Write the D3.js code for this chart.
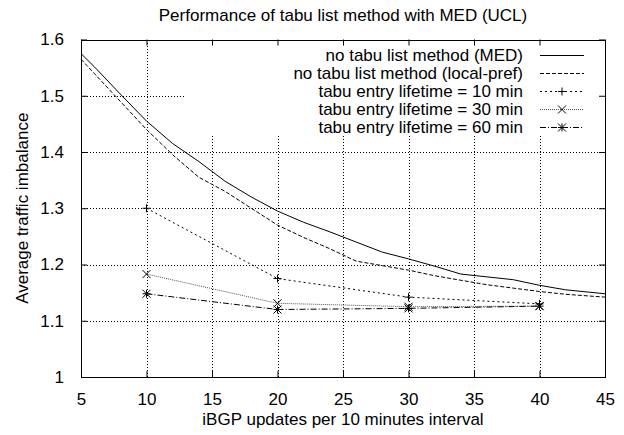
<!DOCTYPE html>
<html>
<head>
<meta charset="utf-8">
<script src="https://cdn.jsdelivr.net/npm/d3@7"></script>
<style>
  body { margin: 0; background: #fff; }
  text { font-family: "Liberation Sans", Arial, sans-serif; font-size: 17px; fill: #000; }
</style>
</head>
<body>
<div id="chart"></div>
<script>
// x positions for the two "no tabu" curves
const denseX = [5, 6, 8, 10, 12, 14, 16, 18, 20, 22, 24, 26, 28, 30, 32, 34, 36, 38, 40, 42, 45];
const medValues = [1.575, 1.552, 1.503, 1.455, 1.415, 1.383, 1.348, 1.320, 1.295, 1.275, 1.258,
                   1.240, 1.222, 1.210, 1.197, 1.183, 1.178, 1.173, 1.163, 1.155, 1.148];
const localPrefValues = [1.565, 1.540, 1.490, 1.440, 1.395, 1.355, 1.330, 1.300, 1.270, 1.248, 1.228,
                         1.206, 1.198, 1.190, 1.180, 1.172, 1.164, 1.158, 1.152, 1.147, 1.142];

// tabu runs were only measured at these rates
const tabuX = [10, 20, 30, 40];
const tabu10 = [1.300, 1.175, 1.142, 1.130];
const tabu30 = [1.183, 1.131, 1.125, 1.126];
const tabu60 = [1.148, 1.120, 1.122, 1.126];

const xTicks = [5, 10, 15, 20, 25, 30, 35, 40, 45];
const yTicks = [1, 1.1, 1.2, 1.3, 1.4, 1.5, 1.6];

const seriesNames = [
  "no tabu list method (MED)",
  "no tabu list method (local-pref)",
  "tabu entry lifetime = 10 min",
  "tabu entry lifetime = 30 min",
  "tabu entry lifetime = 60 min"
];

const width = 624, height = 435;
const margin = { top: 39.5, right: 19, bottom: 58, left: 81 };

const svg = d3.select("#chart").append("svg")
  .attr("width", width)
  .attr("height", height);

const x = d3.scaleLinear()
  .domain([5, 45])
  .range([margin.left, width - margin.right]);

const y = d3.scaleLinear()
  .domain([1, 1.6])
  .range([height - margin.bottom, margin.top]);

const plotLeft = x.range()[0], plotRight = x.range()[1];
const plotTop = y.range()[1], plotBottom = y.range()[0];

// gnuplot-ish line types
const styles = [
  { dash: null, stroke: "#000" },
  { dash: "4,2", stroke: "#000" },
  { dash: "2,3", stroke: "#000" },
  { dash: "1,1", stroke: "#555" },
  { dash: "6,2,1,2", stroke: "#000" }
];

// Grid
const grid = svg.append("g").attr("stroke", "#000").attr("stroke-width", 1)
  .attr("stroke-dasharray", "1,2").attr("shape-rendering", "crispEdges");

grid.selectAll(".vg")
  .data(xTicks.slice(1, -1))
  .join("line")
  .attr("x1", d => Math.round(x(d)) + 0.5).attr("x2", d => Math.round(x(d)) + 0.5)
  .attr("y1", plotTop).attr("y2", plotBottom);

grid.selectAll(".hg")
  .data(yTicks.slice(1, -1))
  .join("line")
  .attr("y1", d => Math.round(y(d)) + 0.5).attr("y2", d => Math.round(y(d)) + 0.5)
  .attr("x1", plotLeft).attr("x2", plotRight);

// key area hides the grid behind it
svg.append("rect")
  .attr("x", 185).attr("y", plotTop + 1)
  .attr("width", plotRight - 185 - 1).attr("height", 133 - plotTop)
  .attr("fill", "#fff");

// Border
svg.append("rect")
  .attr("x", Math.round(plotLeft) + 0.5).attr("y", Math.round(plotTop) + 0.5)
  .attr("width", Math.round(plotRight) - Math.round(plotLeft))
  .attr("height", Math.round(plotBottom) - Math.round(plotTop))
  .attr("fill", "none").attr("stroke", "#000").attr("stroke-width", 1)
  .attr("shape-rendering", "crispEdges");

// Axes (inward ticks, mirrored)
const tickLen = 6;
svg.append("g")
  .attr("transform", `translate(0,${plotBottom})`)
  .call(d3.axisBottom(x).tickValues(xTicks).tickSize(-tickLen).tickPadding(tickLen + 10).tickFormat(d3.format("d")))
  .call(g => g.select(".domain").remove())
  .call(g => g.selectAll("text").style("font-size", "17px").attr("font-family", null));

svg.append("g")
  .attr("transform", `translate(0,${plotTop})`)
  .call(d3.axisTop(x).tickValues(xTicks).tickSize(-tickLen).tickFormat(""))
  .call(g => g.select(".domain").remove());

svg.append("g")
  .attr("transform", `translate(${plotLeft},0)`)
  .call(d3.axisLeft(y).tickValues(yTicks).tickSize(-tickLen).tickPadding(tickLen + 11)
    .tickFormat(d => d === 1 ? "1" : d3.format(".1f")(d)))
  .call(g => g.select(".domain").remove())
  .call(g => g.selectAll("text").style("font-size", "17px").attr("font-family", null));

svg.append("g")
  .attr("transform", `translate(${plotRight},0)`)
  .call(d3.axisRight(y).tickValues(yTicks).tickSize(-tickLen).tickFormat(""))
  .call(g => g.select(".domain").remove());

// Title and axis labels
svg.append("text")
  .attr("x", (plotLeft + plotRight) / 2)
  .attr("y", 21)
  .attr("text-anchor", "middle")
  .text("Performance of tabu list method with MED (UCL)");

svg.append("text")
  .attr("x", (plotLeft + plotRight) / 2)
  .attr("y", 425)
  .attr("text-anchor", "middle")
  .text("iBGP updates per 10 minutes interval");

svg.append("text")
  .attr("transform", `translate(28,${(plotTop + plotBottom) / 2}) rotate(-90)`)
  .attr("text-anchor", "middle")
  .text("Average traffic imbalance");

// Markers
function marker(g, type, cx, cy) {
  const s = 4;
  let d = "";
  if (type === "plus" || type === "star") d += `M${cx - s},${cy}H${cx + s}M${cx},${cy - s}V${cy + s}`;
  if (type === "cross" || type === "star") d += `M${cx - s},${cy - s}L${cx + s},${cy + s}M${cx - s},${cy + s}L${cx + s},${cy - s}`;
  g.append("path")
    .attr("fill", "none").attr("stroke", "#000").attr("stroke-width", 1)
    .attr("d", d);
}

const series = [
  { xs: denseX, ys: medValues, marker: null },
  { xs: denseX, ys: localPrefValues, marker: null },
  { xs: tabuX, ys: tabu10, marker: "plus" },
  { xs: tabuX, ys: tabu30, marker: "cross" },
  { xs: tabuX, ys: tabu60, marker: "star" }
];

const line = d3.line()
  .x(d => x(d[0]))
  .y(d => y(d[1]));

// Legend
const keyRows = [55, 73, 91, 109, 127];
const legend = svg.append("g");
seriesNames.forEach((name, i) => {
  legend.append("text")
    .attr("x", 523).attr("y", keyRows[i])
    .attr("dy", "0.35em")
    .attr("text-anchor", "end")
    .text(name);
  legend.append("line")
    .attr("x1", 540).attr("x2", 584)
    .attr("y1", keyRows[i] + 0.5).attr("y2", keyRows[i] + 0.5)
    .attr("stroke", styles[i].stroke)
    .attr("stroke-dasharray", styles[i].dash)
    .attr("stroke-width", 1);
  if (series[i].marker) marker(legend, series[i].marker, 562, keyRows[i] + 0.5);
});

// Data lines
series.forEach((s, i) => {
  const pts = s.xs.map((v, j) => [v, s.ys[j]]);
  svg.append("path")
    .datum(pts)
    .attr("fill", "none")
    .attr("stroke", styles[i].stroke)
    .attr("stroke-dasharray", styles[i].dash)
    .attr("stroke-width", 1)
    .attr("d", line);
  if (s.marker) pts.forEach(p => marker(svg, s.marker, x(p[0]), y(p[1])));
});
</script>
</body>
</html>
